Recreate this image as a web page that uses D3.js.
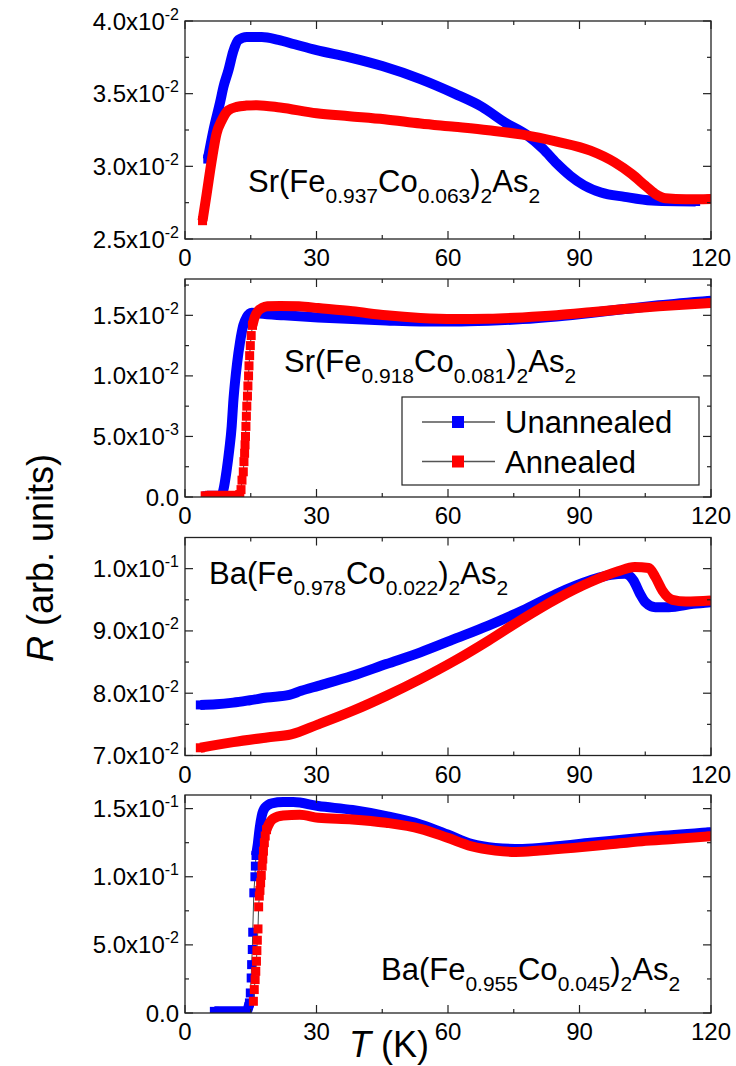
<!DOCTYPE html>
<html><head><meta charset="utf-8">
<script src="https://cdn.jsdelivr.net/npm/d3@7"></script>
<style>
html,body{margin:0;padding:0;background:#fff;}
svg text{font-family:"Liberation Sans",Arial,Helvetica,sans-serif;fill:#000;}
</style></head><body>
<svg id="chart" width="736" height="1066"></svg>
<script>
// ---------- shared temperature axis ----------
const tDomain = [0, 120];
const tMajor = [0, 30, 60, 90, 120];
const tMinor = [15, 45, 75, 105];
const seriesNames = ["Unannealed", "Annealed"];
const seriesColors = ["#0000ff", "#ff0000"];

// ---------- panel 1: Sr(Fe0.937Co0.063)2As2 ----------
const p1Domain = [0.025, 0.040];
const p1Major = [0.025, 0.030, 0.035, 0.040];
const p1Minor = [0.0275, 0.0325, 0.0375];
const p1Labels = [["2.5x10", "-2"], ["3.0x10", "-2"], ["3.5x10", "-2"], ["4.0x10", "-2"]];
const p1Formula = [["Sr(Fe", 0], ["0.937", 1], ["Co", 0], ["0.063", 1], [")", 0], ["2", 1], ["As", 0], ["2", 1]];
const p1UnT = [5.2, 6.5, 8.0, 8.8, 9.9, 11.0, 12.2, 14.1, 17.5, 21.3, 25.0, 30.0, 37.5, 45.0, 53.7, 61.5, 67.7, 73.1, 77.8, 81.7, 84.8, 87.9, 91.0, 94.9, 100.3, 106.5, 112.0, 116.5];
const p1UnR = [0.0305, 0.0325, 0.0344, 0.0355, 0.0366, 0.0379, 0.0387, 0.0389, 0.0389, 0.0387, 0.0384, 0.0380, 0.0375, 0.0369, 0.0360, 0.0350, 0.0341, 0.0330, 0.0322, 0.0312, 0.0302, 0.02935, 0.0287, 0.0282, 0.0279, 0.02764, 0.02759, 0.02758];
const p1AnT = [4.0, 4.95, 6.1, 7.2, 8.4, 9.9, 11.8, 14.0, 16.4, 21.7, 30.0, 37.5, 45.5, 53.7, 61.5, 69.2, 77.0, 84.8, 92.5, 98.0, 101.9, 105.0, 107.3, 109.6, 114.3, 120];
const p1AnR = [0.02626, 0.02812, 0.03041, 0.03226, 0.03317, 0.03386, 0.03409, 0.03418, 0.03421, 0.03405, 0.03365, 0.03345, 0.03324, 0.03295, 0.03272, 0.03248, 0.03218, 0.0317, 0.03108, 0.03028, 0.02947, 0.02867, 0.0281, 0.0278, 0.02773, 0.02775];

// ---------- panel 2: Sr(Fe0.918Co0.081)2As2 ----------
const p2Domain = [0, 0.018];
const p2Major = [0, 0.005, 0.010, 0.015];
const p2Minor = [0.0025, 0.0075, 0.0125, 0.0175];
const p2Labels = [["0.0", ""], ["5.0x10", "-3"], ["1.0x10", "-2"], ["1.5x10", "-2"]];
const p2Formula = [["Sr(Fe", 0], ["0.918", 1], ["Co", 0], ["0.081", 1], [")", 0], ["2", 1], ["As", 0], ["2", 1]];
const p2UnT = [5.0, 6.5, 8.0, 8.4, 8.9, 9.5, 10.1, 10.65, 11.0, 11.4, 11.9, 12.55, 13.3, 14.1, 15.2, 17.1, 22.6, 30.4, 38.2, 45.9, 53.7, 61.5, 69.2, 77.0, 84.8, 92.5, 100.3, 108.1, 120];
const p2UnR = [0.0001, 0.0001, 0.0001, 0.0002, 0.00083, 0.0022, 0.0039, 0.00583, 0.00778, 0.00944, 0.0111, 0.01278, 0.01417, 0.01486, 0.01522, 0.01514, 0.0150, 0.01483, 0.01469, 0.01458, 0.0145, 0.0145, 0.01456, 0.01469, 0.01491, 0.01519, 0.01552, 0.01583, 0.01621];
const p2AnT = [4.6, 6.5, 8.5, 10.5, 12.0, 12.5, 12.78, 13.0, 13.3, 13.45, 13.6, 13.7, 13.8, 13.9, 14.0, 14.1, 14.25, 14.35, 14.5, 14.6, 14.75, 14.9, 15.1, 15.4, 15.9, 16.6, 17.6, 18.8, 21.7, 26.0, 30.4, 38.2, 45.9, 53.7, 61.5, 69.2, 77.0, 84.8, 92.5, 100.3, 108.1, 120];
const p2AnR = [0.0001, 0.0001, 0.0001, 0.0001, 0.0001, 0.0002, 0.00061, 0.00139, 0.00208, 0.00292, 0.00361, 0.00431, 0.0050, 0.00583, 0.00667, 0.0075, 0.00833, 0.00917, 0.0100, 0.01083, 0.01167, 0.0125, 0.01333, 0.01417, 0.01486, 0.01533, 0.01561, 0.01575, 0.01578, 0.01575, 0.0156, 0.01533, 0.0150, 0.01478, 0.01469, 0.01472, 0.01483, 0.0150, 0.01525, 0.01552, 0.01574, 0.01602];

// ---------- panel 3: Ba(Fe0.978Co0.022)2As2 ----------
const p3Domain = [0.07, 0.105];
const p3Major = [0.07, 0.08, 0.09, 0.10];
const p3Minor = [0.075, 0.085, 0.095];
const p3Labels = [["7.0x10", "-2"], ["8.0x10", "-2"], ["9.0x10", "-2"], ["1.0x10", "-1"]];
const p3Formula = [["Ba(Fe", 0], ["0.978", 1], ["Co", 0], ["0.022", 1], [")", 0], ["2", 1], ["As", 0], ["2", 1]];
const p3UnT = [3.5, 7.1, 11.0, 14.8, 18.7, 23.8, 26.5, 30.4, 38.2, 45.9, 53.7, 61.5, 69.2, 77.0, 84.8, 92.5, 97.2, 100.3, 102.3, 103.8, 105.0, 107.3, 110.4, 115.9, 120];
const p3UnR = [0.07812, 0.07822, 0.07849, 0.07887, 0.0793, 0.07973, 0.08038, 0.08118, 0.0828, 0.08468, 0.08656, 0.08871, 0.09086, 0.09328, 0.09597, 0.09812, 0.09903, 0.09919, 0.09812, 0.09597, 0.09462, 0.09382, 0.09382, 0.09435, 0.09462];
const p3AnT = [3.5, 11.0, 18.7, 24.2, 30.4, 38.2, 45.9, 53.7, 61.5, 69.2, 77.0, 84.8, 92.5, 98.8, 102.6, 105.8, 107.3, 108.9, 111.2, 114.3, 120];
const p3AnR = [0.07124, 0.07215, 0.0729, 0.07339, 0.0750, 0.07715, 0.07957, 0.08226, 0.08521, 0.08844, 0.09193, 0.09516, 0.09785, 0.09957, 0.10027, 0.1001, 0.09866, 0.0965, 0.0950, 0.09473, 0.09489];

// ---------- panel 4: Ba(Fe0.955Co0.045)2As2 ----------
const p4Domain = [0, 0.16];
const p4Major = [0, 0.05, 0.10, 0.15];
const p4Minor = [0.025, 0.075, 0.125];
const p4Labels = [["0.0", ""], ["5.0x10", "-2"], ["1.0x10", "-1"], ["1.5x10", "-1"]];
const p4Formula = [["Ba(Fe", 0], ["0.955", 1], ["Co", 0], ["0.045", 1], [")", 0], ["2", 1], ["As", 0], ["2", 1]];
const p4UnT = [6.7, 9.0, 11.5, 13.3, 14.1, 14.7, 14.9, 15.1, 15.2, 15.35, 15.45, 15.7, 15.95, 16.05, 16.2, 16.6, 17.0, 17.5, 18.25, 19.8, 22.4, 24.7, 30.4, 38.2, 45.9, 53.7, 59.9, 65.3, 70.8, 77.0, 84.8, 92.5, 100.3, 108.1, 120];
const p4UnR = [0.0012, 0.0012, 0.0012, 0.0012, 0.0015, 0.0074, 0.0147, 0.0257, 0.0355, 0.0466, 0.0593, 0.0882, 0.1000, 0.1078, 0.1156, 0.1237, 0.1348, 0.1446, 0.1507, 0.1539, 0.1548, 0.1548, 0.1519, 0.1490, 0.1445, 0.1384, 0.1310, 0.1241, 0.1212, 0.1204, 0.1224, 0.1249, 0.1273, 0.1298, 0.1327];
const p4AnT = [15.6, 15.8, 16.0, 16.15, 16.3, 16.4, 16.5, 16.65, 16.8, 16.95, 17.1, 17.25, 17.4, 17.6, 17.75, 17.9, 18.1, 18.3, 18.6, 19.0, 20.1, 22.4, 26.2, 30.4, 38.2, 45.9, 53.7, 59.9, 65.3, 70.8, 75.4, 80.9, 88.7, 96.4, 104.2, 112.0, 120];
const p4AnR = [0.0086, 0.0172, 0.0245, 0.0306, 0.0380, 0.0458, 0.0534, 0.0617, 0.0779, 0.0858, 0.0900, 0.0956, 0.1010, 0.1078, 0.1130, 0.1188, 0.1250, 0.1299, 0.1345, 0.1377, 0.1426, 0.1450, 0.1455, 0.1433, 0.1421, 0.1396, 0.1352, 0.1286, 0.1224, 0.1192, 0.1182, 0.1192, 0.1212, 0.1236, 0.1261, 0.1278, 0.1298];

// ---------- layout ----------
const plotLeft = 185, plotRight = 711, panelH = 218;
const panels = [
  { top: 21,    domain: p1Domain, major: p1Major, minor: p1Minor, labels: p1Labels, formula: p1Formula, fx: 248, fy: 171,
    series: [[p1UnT, p1UnR], [p1AnT, p1AnR]] },
  { top: 279,   domain: p2Domain, major: p2Major, minor: p2Minor, labels: p2Labels, formula: p2Formula, fx: 284, fy: 93, legend: true,
    series: [[p2UnT, p2UnR], [p2AnT, p2AnR]] },
  { top: 537.5, domain: p3Domain, major: p3Major, minor: p3Minor, labels: p3Labels, formula: p3Formula, fx: 209, fy: 46.5,
    series: [[p3UnT, p3UnR], [p3AnT, p3AnR]] },
  { top: 795,   domain: p4Domain, major: p4Major, minor: p4Minor, labels: p4Labels, formula: p4Formula, fx: 381, fy: 185,
    series: [[p4UnT, p4UnR], [p4AnT, p4AnR]] }
];

const svg = d3.select("#chart");
const x = d3.scaleLinear().domain(tDomain).range([plotLeft, plotRight]);
const MARK = 9, BAND = 10;

function drawSeries(g, y, T, R, color) {
  const pts = T.map((t, i) => [x(t), y(R[i])]);
  // thin connecting line between measured points
  g.append("path").attr("d", d3.line()(pts))
    .attr("fill", "none").attr("stroke", "#444").attr("stroke-width", 1);
  // closely spaced points merge into a solid band; isolated ones stay as squares
  const runs = [];
  let run = [0];
  for (let i = 1; i < pts.length; i++) {
    if (pts[i][0] - pts[i - 1][0] >= 1.5) run.push(i);
    else { runs.push(run); run = [i]; }
  }
  runs.push(run);
  const squares = [];
  runs.forEach(r => {
    if (r.length > 1) {
      g.append("path")
        .attr("d", d3.line().curve(d3.curveMonotoneX)(r.map(i => pts[i])))
        .attr("fill", "none").attr("stroke", color)
        .attr("stroke-width", BAND).attr("stroke-linejoin", "round");
      squares.push(pts[r[0]], pts[r[r.length - 1]]);
    } else squares.push(pts[r[0]]);
  });
  g.selectAll(null).data(squares).join("rect")
    .attr("x", d => d[0] - MARK / 2).attr("y", d => d[1] - MARK / 2)
    .attr("width", MARK).attr("height", MARK).attr("fill", color);
}

panels.forEach((p, pi) => {
  const bottom = p.top + panelH;
  const y = d3.scaleLinear().domain(p.domain).range([bottom, p.top]);
  const g = svg.append("g");

  const clipId = "clip" + pi;
  svg.append("clipPath").attr("id", clipId).append("rect")
    .attr("x", plotLeft).attr("y", p.top).attr("width", plotRight - plotLeft).attr("height", panelH);

  const data = g.append("g").attr("clip-path", `url(#${clipId})`);
  p.series.forEach((s, si) => drawSeries(data, y, s[0], s[1], seriesColors[si]));

  // inward ticks on all four sides
  const tk = g.append("g").attr("stroke", "#222").attr("stroke-width", 1.2);
  const xt = tMajor.map(v => [v, 8]).concat(tMinor.map(v => [v, 4]));
  xt.forEach(([v, len]) => {
    tk.append("line").attr("x1", x(v)).attr("x2", x(v)).attr("y1", bottom).attr("y2", bottom - len);
    tk.append("line").attr("x1", x(v)).attr("x2", x(v)).attr("y1", p.top).attr("y2", p.top + len);
  });
  const yt = p.major.map(v => [v, 8]).concat(p.minor.map(v => [v, 4]));
  yt.forEach(([v, len]) => {
    tk.append("line").attr("x1", plotLeft).attr("x2", plotLeft + len).attr("y1", y(v)).attr("y2", y(v));
    tk.append("line").attr("x1", plotRight).attr("x2", plotRight - len).attr("y1", y(v)).attr("y2", y(v));
  });

  // frame
  g.append("rect").attr("x", plotLeft).attr("y", p.top)
    .attr("width", plotRight - plotLeft).attr("height", panelH)
    .attr("fill", "none").attr("stroke", "#222").attr("stroke-width", 1.3);

  // temperature tick labels
  g.selectAll(null).data(tMajor).join("text")
    .attr("x", d => x(d)).attr("y", bottom + 27)
    .attr("text-anchor", "middle").attr("font-size", 24)
    .text(d => d);

  // resistance tick labels (mantissa x 10^exp)
  p.major.forEach((v, i) => {
    const t = g.append("text").attr("x", plotLeft - 6).attr("y", y(v) + 8.5)
      .attr("text-anchor", "end").attr("font-size", 24);
    t.append("tspan").text(p.labels[i][0]);
    if (p.labels[i][1]) t.append("tspan").attr("dy", -10).attr("font-size", 16).text(p.labels[i][1]);
  });

  // compound formula with subscripts
  const f = g.append("text").attr("x", p.fx).attr("y", p.top + p.fy).attr("font-size", 31);
  let low = false;
  p.formula.forEach(([txt, sub]) => {
    const ts = f.append("tspan").text(txt);
    if (sub && !low) { ts.attr("dy", 11).attr("font-size", 21); low = true; }
    else if (sub) { ts.attr("font-size", 21); }
    else if (low) { ts.attr("dy", -11); low = false; }
  });

  if (p.legend) {
    const lg = g.append("g");
    lg.append("rect").attr("x", 402).attr("y", 397).attr("width", 297).attr("height", 88)
      .attr("fill", "#fff").attr("stroke", "#222").attr("stroke-width", 1.2);
    seriesNames.forEach((name, i) => {
      const cy = 422 + i * 39.5;
      lg.append("line").attr("x1", 422).attr("x2", 495).attr("y1", cy).attr("y2", cy)
        .attr("stroke", "#555").attr("stroke-width", 1.5);
      lg.append("rect").attr("x", 452).attr("y", cy - 6).attr("width", 12).attr("height", 12)
        .attr("fill", seriesColors[i]);
      lg.append("text").attr("x", 505).attr("y", cy + 11).attr("font-size", 31).text(name);
    });
  }
});

// axis titles
const yTitle = svg.append("text").attr("transform", "translate(53,558) rotate(-90)")
  .attr("text-anchor", "middle").attr("font-size", 36);
yTitle.append("tspan").attr("font-style", "italic").text("R");
yTitle.append("tspan").text(" (arb. units)");

const xTitle = svg.append("text").attr("x", 349).attr("y", 1057).attr("font-size", 36);
xTitle.append("tspan").attr("font-style", "italic").text("T");
xTitle.append("tspan").text(" (K)");
</script>
</body></html>
